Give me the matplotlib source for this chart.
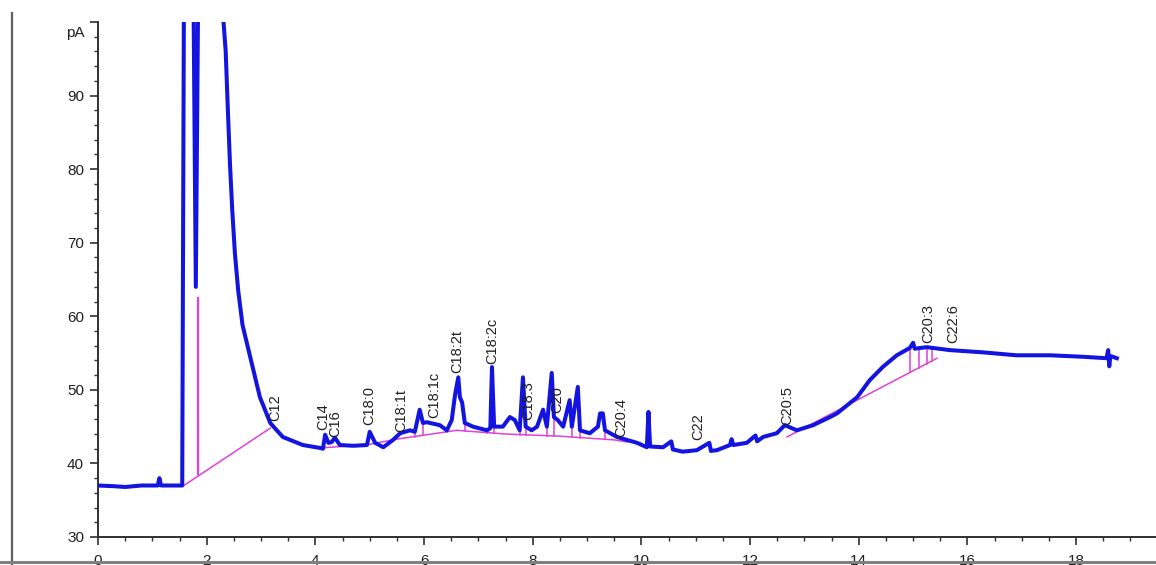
import numpy as np
import matplotlib
matplotlib.use('Agg')
import matplotlib.pyplot as plt
from matplotlib.lines import Line2D
from matplotlib.ticker import MultipleLocator

plt.rcParams['font.family'] = ['Liberation Sans', 'DejaVu Sans']

# FID signal (pA), time in minutes
time_min = [0.00, 0.30, 0.50, 0.80, 1.10, 1.13, 1.16, 1.55, 1.58, 1.76, 1.80, 1.84,
            2.30, 2.35, 2.39, 2.43, 2.47, 2.52, 2.58, 2.66, 2.80, 2.98, 3.17, 3.40, 3.77,
            4.09, 4.14, 4.18, 4.24, 4.30, 4.36, 4.45, 4.70, 4.95, 5.00, 5.10, 5.25,
            5.43, 5.56, 5.74, 5.83, 5.92, 5.98, 6.05, 6.29, 6.42, 6.51, 6.57, 6.63,
            6.66, 6.70, 6.75, 6.90, 7.16, 7.22, 7.25, 7.29, 7.45, 7.58, 7.67, 7.76,
            7.82, 7.87, 7.98, 8.08, 8.19, 8.26, 8.35, 8.39, 8.46, 8.56, 8.68, 8.72,
            8.83, 8.87, 9.05, 9.20, 9.24, 9.29, 9.33, 9.55, 9.73, 9.92, 10.10, 10.13,
            10.16, 10.40, 10.55, 10.58, 10.76, 11.02, 11.25, 11.28, 11.39, 11.63, 11.66,
            11.69, 11.94, 12.10, 12.13, 12.24, 12.49, 12.64, 12.86, 13.16, 13.47, 13.60,
            13.97, 14.20, 14.44, 14.70, 14.94, 15.00, 15.03, 15.25, 15.68, 16.28, 16.90,
            17.52, 18.12, 18.56, 18.59, 18.61, 18.63, 18.75]
signal_pa = [37.0, 36.9, 36.8, 37.0, 37.0, 38.0, 37.0, 37.0, 101.0, 101.0, 64.0, 101.0,
             101.0, 96.0, 88.0, 80.5, 74.5, 68.5, 63.5, 58.8, 54.5, 49.0, 45.5, 43.6, 42.5,
             42.1, 42.0, 43.9, 42.8, 42.9, 43.5, 42.5, 42.4, 42.5, 44.3, 42.8, 42.2,
             43.2, 44.1, 44.5, 44.3, 47.3, 45.5, 45.6, 45.2, 44.5, 45.9, 49.3, 51.7,
             49.0, 48.3, 45.5, 45.0, 44.5, 44.8, 53.1, 45.0, 45.0, 46.3, 45.9, 44.5,
             51.7, 45.0, 44.5, 45.0, 47.3, 45.0, 52.3, 46.3, 45.9, 45.0, 48.6, 45.0,
             50.4, 44.5, 44.1, 45.0, 46.8, 46.8, 44.5, 43.6, 43.2, 42.8, 42.2, 47.0,
             42.3, 42.2, 43.0, 41.9, 41.6, 41.8, 42.8, 41.7, 41.8, 42.5, 43.3,
             42.5, 42.8, 43.8, 43.0, 43.6, 44.1, 45.2, 44.5, 45.2, 46.3, 46.8,
             49.0, 51.3, 53.1, 54.7, 55.7, 56.4, 55.6, 55.8, 55.4, 55.1, 54.7,
             54.7, 54.5, 54.3, 55.4, 53.2, 54.6, 54.3]

# integration baselines (NaN separates segments)
base_time = [1.58, 3.17, np.nan, 4.10, 5.00, 5.50, 6.60, 7.50, 8.50, 9.50, 9.75,
             np.nan, 12.68, 15.44]
base_pa = [37.0, 44.8, np.nan, 42.1, 42.6, 43.3, 44.5, 44.0, 43.7, 43.2, 42.9,
           np.nan, 43.6, 54.3]

# peak drop lines
drop_time = [5.83, 5.98, 6.42, 6.75, 7.16, 7.29, 7.76, 7.87, 8.26, 8.39, 8.72,
             8.87, 9.33, 14.95, 15.10, 15.25, 15.35]
solvent_drop = (1.84, 38.6, 62.5)

# peak annotations
peak_names = ['C12', 'C14', 'C16', 'C18:0', 'C18:1t', 'C18:1c', 'C18:2t', 'C18:2c',
              'C18:3', 'C20', 'C20:4', 'C22', 'C20:5', 'C20:3', 'C22:6']
peak_times = [3.26, 4.14, 4.36, 5.00, 5.58, 6.18, 6.62, 7.25, 7.91, 8.45, 9.62,
              11.04, 12.68, 15.27, 15.73]
peak_label_pa = [45.8, 44.5, 43.6, 45.2, 44.3, 46.2, 52.3, 53.5, 45.9, 46.8, 43.6,
                 43.2, 45.2, 56.4, 56.4]

fig = plt.figure(figsize=(11.56, 5.65), dpi=100)
ax = fig.add_axes([98 / 1156, 28 / 565, 1058 / 1156, 515 / 565])

magenta = '#e040d8'
t = np.array(time_min)
s = np.array(signal_pa)
bt = np.array(base_time)
bp = np.array(base_pa)

ax.plot(bt, bp, color=magenta, lw=1.1, zorder=2)
for dt in drop_time:
    seg = np.isfinite(bt)
    lo = np.interp(dt, bt[seg], bp[seg])
    ax.plot([dt, dt], [lo, np.interp(dt, t, s)], color=magenta, lw=1.1, zorder=2)
ax.plot([solvent_drop[0]] * 2, solvent_drop[1:], color=magenta, lw=1.6, zorder=2)

ax.plot(t, s, color='#1414e0', lw=2.9, solid_joinstyle='round', zorder=3)

for name, pt, py in zip(peak_names, peak_times, peak_label_pa):
    ax.text(pt, py, name, rotation=90, ha='center', va='bottom', fontsize=10.5,
            color='#202020', zorder=4)

ax.set_xlim(0, 19.47)
ax.set_ylim(30, 100)
ax.xaxis.set_major_locator(MultipleLocator(2))
ax.xaxis.set_minor_locator(MultipleLocator(0.5))
ax.yaxis.set_major_locator(MultipleLocator(10))
ax.yaxis.set_minor_locator(MultipleLocator(2))
ax.set_yticks([30, 40, 50, 60, 70, 80, 90, 100])
ax.set_yticklabels(['30', '40', '50', '60', '70', '80', '90', ''])
ax.annotate('pA', xy=(0, 100), xycoords=('axes fraction', 'data'), xytext=(-13, -11),
            textcoords='offset pixels', ha='right', va='center', fontsize=11,
            color='#202020')

for side in ['top', 'right']:
    ax.spines[side].set_visible(False)
for side in ['left', 'bottom']:
    ax.spines[side].set_color('#303030')
    ax.spines[side].set_linewidth(1.4)
ax.tick_params(which='major', length=6, width=1.2, color='#303030', labelsize=11,
               labelcolor='#202020')
ax.tick_params(which='minor', length=3, width=1.0, color='#303030')
ax.tick_params(axis='y', which='major', pad=4)
ax.tick_params(axis='x', which='major', pad=6)

# screenshot frame
fig.add_artist(Line2D([12 / 1156, 12 / 1156], [0, 1 - 13 / 565], transform=fig.transFigure,
                      color='#606060', lw=1.6))
fig.add_artist(Line2D([0, 1], [3 / 565, 3 / 565], transform=fig.transFigure,
                      color='#808080', lw=2.2))

fig.savefig('out.png', dpi=100)
